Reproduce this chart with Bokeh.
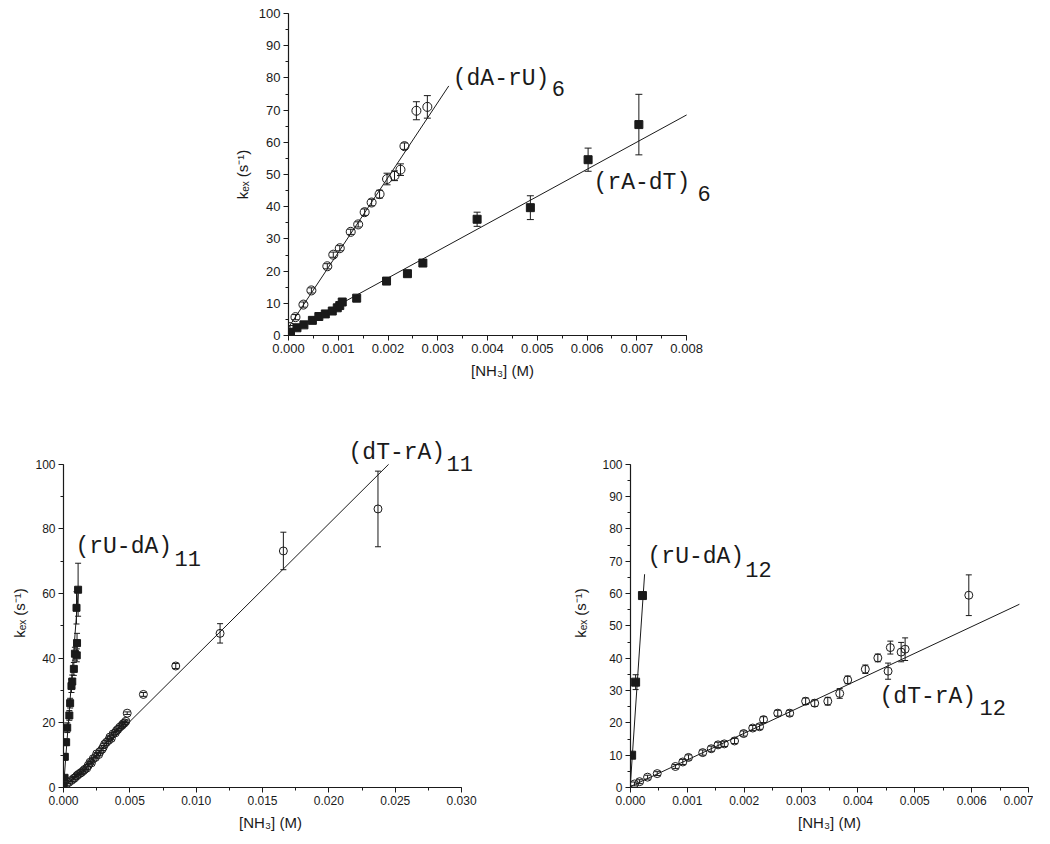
from bokeh.plotting import figure
from bokeh.layouts import column, row
from bokeh.models import (Range1d, SingleIntervalTicker, PrintfTickFormatter, Whisker,
                          TeeHead, ColumnDataSource, Spacer)
from bokeh.core.properties import value
from bokeh.embed import file_html
from bokeh.resources import INLINE

# ---------------- data: top panel ----------------
dArU6_x = [0.00003, 0.00014, 0.00030, 0.00046, 0.00078, 0.00090, 0.00103, 0.00125, 0.00140,
           0.00153, 0.00167, 0.00183, 0.00198, 0.00213, 0.00225, 0.00233, 0.00257, 0.00279]
dArU6_y = [2.6, 5.7, 9.6, 14.0, 21.5, 25.1, 27.1, 32.2, 34.5,
           38.3, 41.3, 43.9, 48.6, 49.6, 51.5, 58.8, 69.8, 71.0]
dArU6_err = [0.5, 0.8, 0.8, 0.8, 0.8, 0.8, 0.8, 0.8, 0.8,
             1.0, 1.0, 1.2, 1.8, 1.5, 1.8, 1.0, 2.8, 3.5]
dArU6_fit_x = [0.0, 0.00322]
dArU6_fit_y = [2.5, 77.5]

rAdT6_x = [0.00004, 0.00017, 0.00031, 0.00048, 0.00061, 0.00074, 0.00088, 0.00098, 0.00103,
           0.00108, 0.00137, 0.00197, 0.00239, 0.00270, 0.00379, 0.00486, 0.00602, 0.00704]
rAdT6_y = [1.0, 2.4, 3.3, 4.7, 5.9, 6.7, 7.6, 8.6, 9.3,
           10.4, 11.6, 16.9, 19.2, 22.5, 36.1, 39.7, 54.6, 65.5]
rAdT6_err = [0.3, 0.3, 0.3, 0.4, 0.4, 0.4, 0.4, 0.5, 0.5,
             0.5, 0.6, 0.7, 0.8, 1.0, 2.2, 3.7, 3.6, 9.4]
rAdT6_fit_x = [0.0, 0.008]
rAdT6_fit_y = [1.0, 68.5]

# ---------------- data: bottom-left panel ----------------
rUdA11_x = [0.00002, 0.00008, 0.00010, 0.00020, 0.00028, 0.00044, 0.00050, 0.00060,
            0.00066, 0.00078, 0.00086, 0.00100, 0.00102, 0.00098, 0.00110]
rUdA11_y = [0.5, 3.0, 9.5, 14.0, 18.5, 22.3, 26.1, 31.4,
            32.8, 36.7, 41.4, 40.9, 44.7, 55.6, 61.2]
rUdA11_err = [0.5, 0.5, 1.0, 1.0, 1.5, 1.5, 1.5, 2.0,
              2.0, 2.0, 2.0, 2.0, 3.0, 5.0, 8.2]
rUdA11_fit_x = [0.0, 0.00110]
rUdA11_fit_y = [0.0, 60.0]

dTrA11_x = [0.00023, 0.00040, 0.00060, 0.00075, 0.00085, 0.00100, 0.00110, 0.00125, 0.00136,
            0.00150, 0.00160, 0.00175, 0.00186, 0.00200, 0.00210, 0.00224, 0.00240, 0.00250,
            0.00265, 0.00274, 0.00290, 0.00300, 0.00310, 0.00324, 0.00340, 0.00350, 0.00360,
            0.00374, 0.00390, 0.00400, 0.00410, 0.00425, 0.00440, 0.00450, 0.00460, 0.00470,
            0.00480, 0.00602, 0.00846, 0.01180, 0.01657, 0.02370]
dTrA11_y = [1.1, 1.6, 2.2, 2.7, 3.0, 3.6, 4.0, 4.4, 4.7,
            5.2, 5.6, 6.0, 6.8, 7.8, 7.6, 8.9, 9.3, 10.4,
            10.2, 11.1, 11.8, 12.5, 13.4, 14.0, 14.6, 15.6, 15.2,
            16.6, 16.9, 17.6, 18.0, 18.7, 19.2, 19.7, 20.0, 20.5,
            23.0, 28.8, 37.6, 47.7, 73.2, 86.2]
dTrA11_err = [0.4] * 37 + [0.6, 0.8, 3.0, 5.8, 11.7]
dTrA11_fit_x = [0.0, 0.0245]
dTrA11_fit_y = [0.0, 100.0]

# ---------------- data: bottom-right panel ----------------
rUdA12_x = [0.00002, 0.00009, 0.00021]
rUdA12_y = [10.0, 32.6, 59.4]
rUdA12_err = [0.5, 2.3, 1.0]
rUdA12_fit_x = [0.0, 0.000248]
rUdA12_fit_y = [1.5, 66.0]

dTrA12_x = [0.00007, 0.00016, 0.00030, 0.00047, 0.00079, 0.00092, 0.00102, 0.00127, 0.00142,
            0.00154, 0.00165, 0.00183, 0.00199, 0.00215, 0.00227, 0.00234, 0.00259, 0.00280,
            0.00308, 0.00324, 0.00347, 0.00368, 0.00382, 0.00413, 0.00435, 0.00453, 0.00457,
            0.00476, 0.00483, 0.00595]
dTrA12_y = [1.1, 1.8, 3.2, 4.3, 6.5, 7.9, 9.3, 10.8, 12.0,
            13.2, 13.5, 14.4, 16.7, 18.4, 18.8, 21.0, 23.0, 23.0,
            26.7, 26.1, 26.7, 29.1, 33.3, 36.6, 40.1, 36.0, 43.3,
            41.9, 42.8, 59.5]
dTrA12_err = [0.6, 0.6, 0.6, 0.6, 0.6, 0.8, 0.8, 0.8, 0.8,
              0.8, 0.8, 0.8, 0.8, 0.8, 0.8, 0.9, 0.9, 0.9,
              1.0, 1.0, 1.2, 1.5, 1.2, 1.3, 1.2, 2.5, 2.0,
              3.0, 3.5, 6.3]
dTrA12_fit_x = [0.0, 0.00684]
dTrA12_fit_y = [0.3, 56.7]

X_LABEL = "[NH\u2083] (M)"
Y_LABEL = "k\u2091\u2093 (s\u207b\u00b9)"

INK = "#1a1a1a"
LABEL_FONT = value("Liberation Mono")


def style(p, xbounds, xint, ybounds, yint, tick_size, label_standoff_y):
    p.grid.visible = False
    p.outline_line_color = None
    p.background_fill_color = "white"
    p.border_fill_color = "white"
    p.xaxis.bounds = xbounds
    p.yaxis.bounds = ybounds
    p.xaxis.ticker = SingleIntervalTicker(interval=xint, num_minor_ticks=2)
    p.yaxis.ticker = SingleIntervalTicker(interval=yint, num_minor_ticks=2)
    p.xaxis.formatter = PrintfTickFormatter(format="%.3f")
    for ax in (p.xaxis, p.yaxis):
        ax.axis_line_color = INK
        ax.axis_line_width = 1.2
        ax.major_tick_line_color = INK
        ax.minor_tick_line_color = INK
        ax.major_tick_out = 5
        ax.major_tick_in = 0
        ax.minor_tick_out = 3
        ax.minor_tick_in = 0
        ax.major_label_text_font = "Liberation Sans"
        ax.major_label_text_font_size = tick_size
        ax.major_label_text_color = INK
        ax.major_label_standoff = 3
        ax.axis_label_text_font = "Liberation Sans"
        ax.axis_label_text_font_size = "15px"
        ax.axis_label_text_font_style = "normal"
        ax.axis_label_text_color = INK
    p.xaxis.axis_label = X_LABEL
    p.yaxis.axis_label = Y_LABEL
    p.xaxis.axis_label_standoff = 6
    p.yaxis.axis_label_standoff = label_standoff_y


def errbars(p, xs, ys, es, head):
    src = ColumnDataSource(dict(x=xs, lo=[y - e for y, e in zip(ys, es)],
                                hi=[y + e for y, e in zip(ys, es)]))
    w = Whisker(source=src, base="x", lower="lo", upper="hi", dimension="height",
                line_color=INK, line_width=1,
                lower_head=TeeHead(size=head, line_color=INK, line_width=1),
                upper_head=TeeHead(size=head, line_color=INK, line_width=1))
    p.add_layout(w)


def label(p, x, y, txt, sx, sy, sub):
    p.text(x=[x], y=[y], text=[txt], text_font=LABEL_FONT, text_font_size="23px",
           text_baseline="middle", text_align="left", text_color=INK)
    p.text(x=[sx], y=[sy], text=[sub], text_font=LABEL_FONT, text_font_size="22px",
           text_baseline="middle", text_align="left", text_color=INK)


# ---------------- top panel ----------------
p1 = figure(x_range=Range1d(0, 0.0086), y_range=Range1d(0, 100), frame_width=428, frame_height=322,
            min_border_left=70, min_border_right=5, min_border_top=13, min_border_bottom=55,
            output_backend="svg", toolbar_location=None)
style(p1, (0, 0.008), 0.001, (0, 100), 10, "13px", 5)
p1.line(dArU6_fit_x, dArU6_fit_y, line_color=INK, line_width=1)
p1.line(rAdT6_fit_x, rAdT6_fit_y, line_color=INK, line_width=1)
errbars(p1, dArU6_x, dArU6_y, dArU6_err, 7)
errbars(p1, rAdT6_x, rAdT6_y, rAdT6_err, 7)
p1.scatter(dArU6_x, dArU6_y, marker="circle", size=9, line_color=INK, fill_color=None, line_width=1)
p1.scatter(rAdT6_x, rAdT6_y, marker="square", size=8, line_color=INK, fill_color=INK)
label(p1, 0.0033, 79.8, "(dA-rU)", 0.00529, 76.7, "6")
label(p1, 0.00613, 47.5, "(rA-dT)", 0.00822, 44.1, "6")

# ---------------- bottom-left panel ----------------
p2 = figure(x_range=Range1d(0, 0.0312), y_range=Range1d(0, 108), frame_width=414, frame_height=349,
            min_border_left=54, min_border_right=2, min_border_top=48, min_border_bottom=50,
            output_backend="svg", toolbar_location=None)
style(p2, (0, 0.030), 0.005, (0, 100), 20, "12px", 4)
p2.line(rUdA11_fit_x, rUdA11_fit_y, line_color=INK, line_width=1)
p2.line(dTrA11_fit_x, dTrA11_fit_y, line_color=INK, line_width=1)
errbars(p2, rUdA11_x, rUdA11_y, rUdA11_err, 6)
errbars(p2, dTrA11_x, dTrA11_y, dTrA11_err, 6)
p2.scatter(dTrA11_x, dTrA11_y, marker="circle", size=8, line_color=INK, fill_color=None, line_width=1)
p2.scatter(rUdA11_x, rUdA11_y, marker="square", size=7, line_color=INK, fill_color=INK)
label(p2, 0.0009, 74.3, "(rU-dA)", 0.00837, 70.9, "11")
label(p2, 0.02148, 103.4, "(dT-rA)", 0.02886, 100.3, "11")

# ---------------- bottom-right panel ----------------
p3 = figure(x_range=Range1d(0, 0.007), y_range=Range1d(0, 108), frame_width=398, frame_height=349,
            min_border_left=60, min_border_right=5, min_border_top=48, min_border_bottom=50,
            output_backend="svg", toolbar_location=None)
style(p3, (0, 0.007), 0.001, (0, 100), 10, "12px", 10)
p3.line(rUdA12_fit_x, rUdA12_fit_y, line_color=INK, line_width=1)
p3.line(dTrA12_fit_x, dTrA12_fit_y, line_color=INK, line_width=1)
errbars(p3, rUdA12_x, rUdA12_y, rUdA12_err, 6)
errbars(p3, dTrA12_x, dTrA12_y, dTrA12_err, 6)
p3.scatter(dTrA12_x, dTrA12_y, marker="circle", size=8, line_color=INK, fill_color=None, line_width=1)
p3.scatter(rUdA12_x, rUdA12_y, marker="square", size=8, line_color=INK, fill_color=INK)
label(p3, 0.0003, 71.2, "(rU-dA)", 0.00202, 67.5, "12")
label(p3, 0.00438, 27.9, "(dT-rA)", 0.00614, 24.8, "12")

layout = column(
    row(Spacer(width=218, height=10), p1),
    row(Spacer(width=8, height=10), p2, Spacer(width=90, height=10), p3),
)

open("out.html", "w").write(file_html(layout, INLINE))
